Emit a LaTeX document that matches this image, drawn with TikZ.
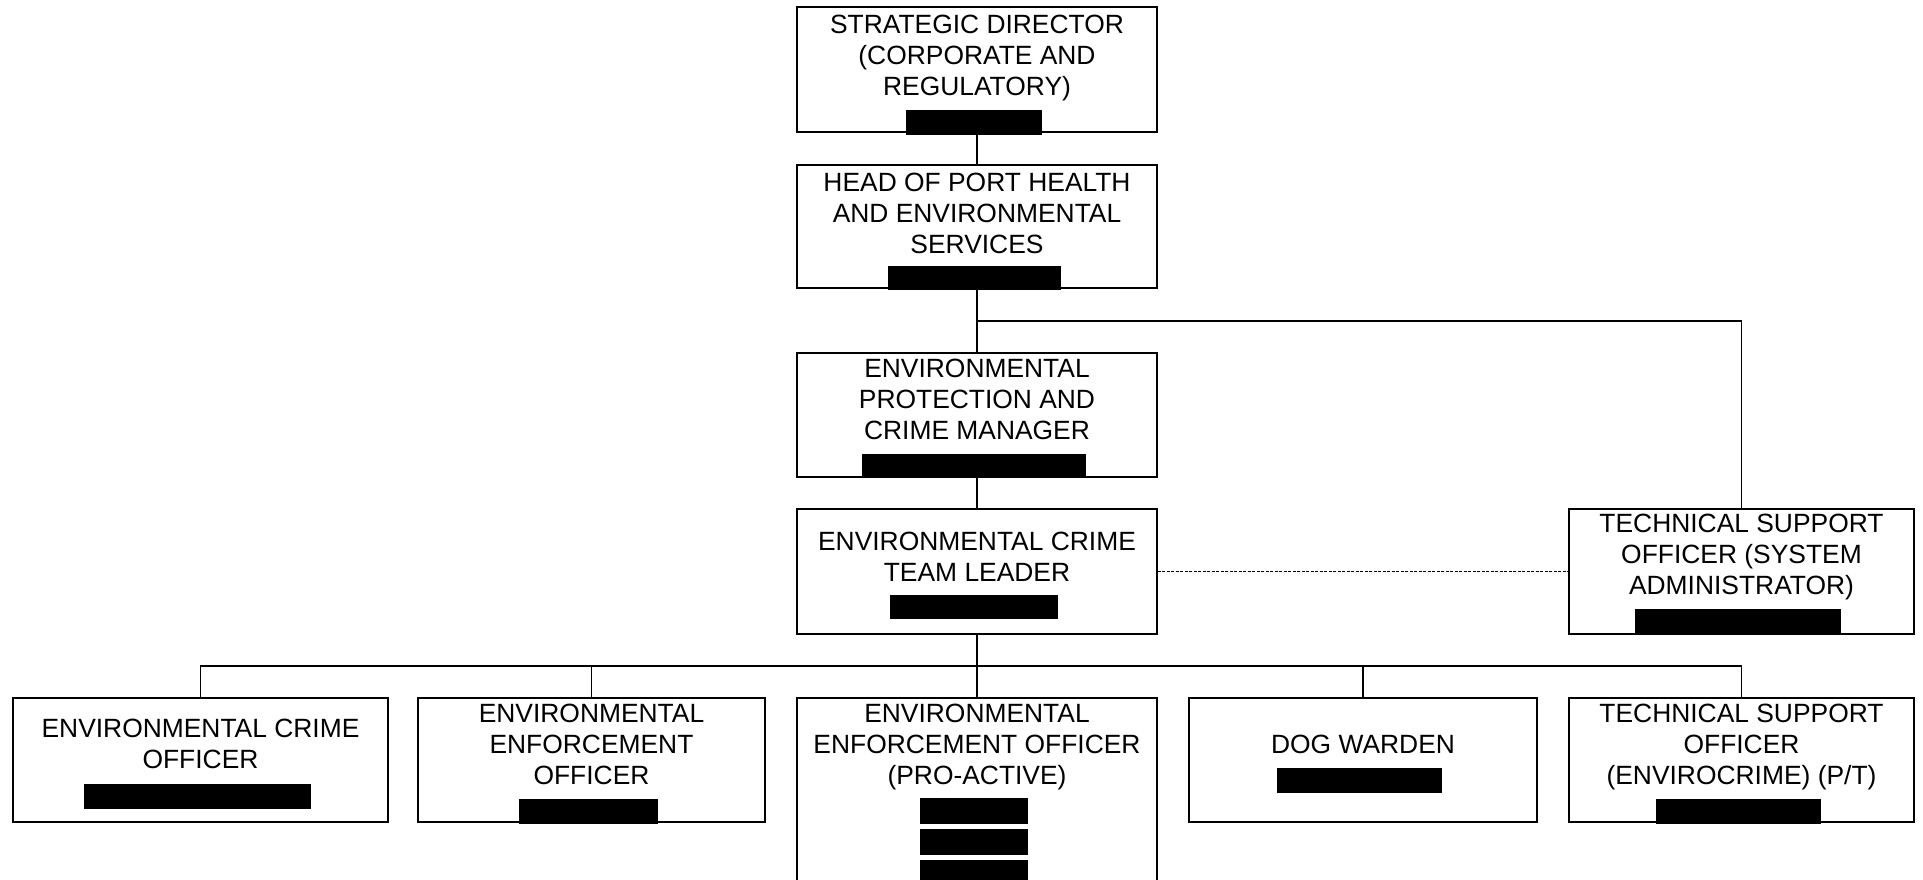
\documentclass[tikz,border=0pt]{standalone}
\usepackage{fontspec}
\setmainfont{Liberation Sans}
\begin{document}
\begin{tikzpicture}[x=1pt,y=-1pt,
  post/.style={draw,line width=1.8pt,rectangle,inner sep=0pt},
  title/.style={anchor=north,align=center,inner sep=0pt,
    font=\fontsize{26.4}{31}\selectfont},
  link/.style={line width=1.8pt},
  dotlink/.style={line width=0.9pt,dash pattern=on 3pt off 1.5pt},
  redact/.style={fill=black}]
\useasboundingbox (0,0) rectangle (1923,880);
\clip (0,0) rectangle (1923,880);
\fill[white] (0,0) rectangle (1923,880);

% helper: box from corner coordinates
\newcommand{\postbox}[5]{%
  \node[post,minimum width={#4-#2},minimum height={#5-#3}] (#1) at ({(#2+#4)/2},{(#3+#5)/2}) {};}

% boxes
\postbox{sd}{797}{7}{1157}{132}
\postbox{head}{797}{165}{1157}{288}
\postbox{epcm}{797}{353}{1157}{477}
\postbox{ectl}{797}{509}{1157}{634}
\postbox{tsoa}{1569}{509}{1914}{634}
\postbox{eco}{13}{698}{388}{822}
\postbox{eeo}{418}{698}{765}{822}
\postbox{epa}{797}{698}{1157}{910}
\postbox{dog}{1189}{698}{1537}{822}
\postbox{tsoc}{1569}{698}{1914}{822}

% titles
\node[title] (sd-t) at (977,15) {STRATEGIC DIRECTOR\\(CORPORATE AND\\REGULATORY)};
\node[title] (head-t) at (977,173) {HEAD OF PORT HEALTH\\AND ENVIRONMENTAL\\SERVICES};
\node[title] (epcm-t) at (977,359) {ENVIRONMENTAL\\PROTECTION AND\\CRIME MANAGER};
\node[title] (ectl-t) at (977,532) {ENVIRONMENTAL CRIME\\TEAM LEADER};
\node[title] (tsoa-t) at (1741.5,514) {TECHNICAL SUPPORT\\OFFICER (SYSTEM\\ADMINISTRATOR)};
\node[title] (eco-t) at (200.5,719) {ENVIRONMENTAL CRIME\\OFFICER};
\node[title] (eeo-t) at (591.5,704) {ENVIRONMENTAL\\ENFORCEMENT\\OFFICER};
\node[title] (epa-t) at (977,704) {ENVIRONMENTAL\\ENFORCEMENT OFFICER\\(PRO-ACTIVE)};
\node[title] (dog-t) at (1363,735) {DOG WARDEN};
\node[title] (tsoc-t) at (1741.5,704) {TECHNICAL SUPPORT\\OFFICER\\(ENVIROCRIME) (P/T)};

% connectors
\coordinate (split) at (977,321);
\coordinate (bus) at (977,666);
\draw[link] (sd.south) -- (head.north);
\draw[link] (head.south) -- (epcm.north);
\draw[link] (split) -| (tsoa.north);
\draw[link] (epcm.south) -- (ectl.north);
\draw[link] (ectl.south) -- (epa.north);
\draw[link] (eco.north) |- (bus) -| (tsoc.north);
\draw[link] (eeo.north) |- (bus);
\draw[link] (dog.north) |- (bus);
\draw[dotlink] (ectl.east) -- (tsoa.west);

% redacted names
\fill[redact] (906,110) rectangle (1042,135);
\fill[redact] (888,266) rectangle (1061,290);
\fill[redact] (862,454) rectangle (1086,478);
\fill[redact] (890,595) rectangle (1058,619);
\fill[redact] (1635,609) rectangle (1841,633);
\fill[redact] (84,784) rectangle (311,809);
\fill[redact] (519,799) rectangle (658,824);
\fill[redact] (920,798) rectangle (1028,824);
\fill[redact] (920,829) rectangle (1028,855);
\fill[redact] (920,860) rectangle (1028,886);
\fill[redact] (1277,768) rectangle (1442,793);
\fill[redact] (1656,799) rectangle (1821,824);
\end{tikzpicture}
\end{document}
